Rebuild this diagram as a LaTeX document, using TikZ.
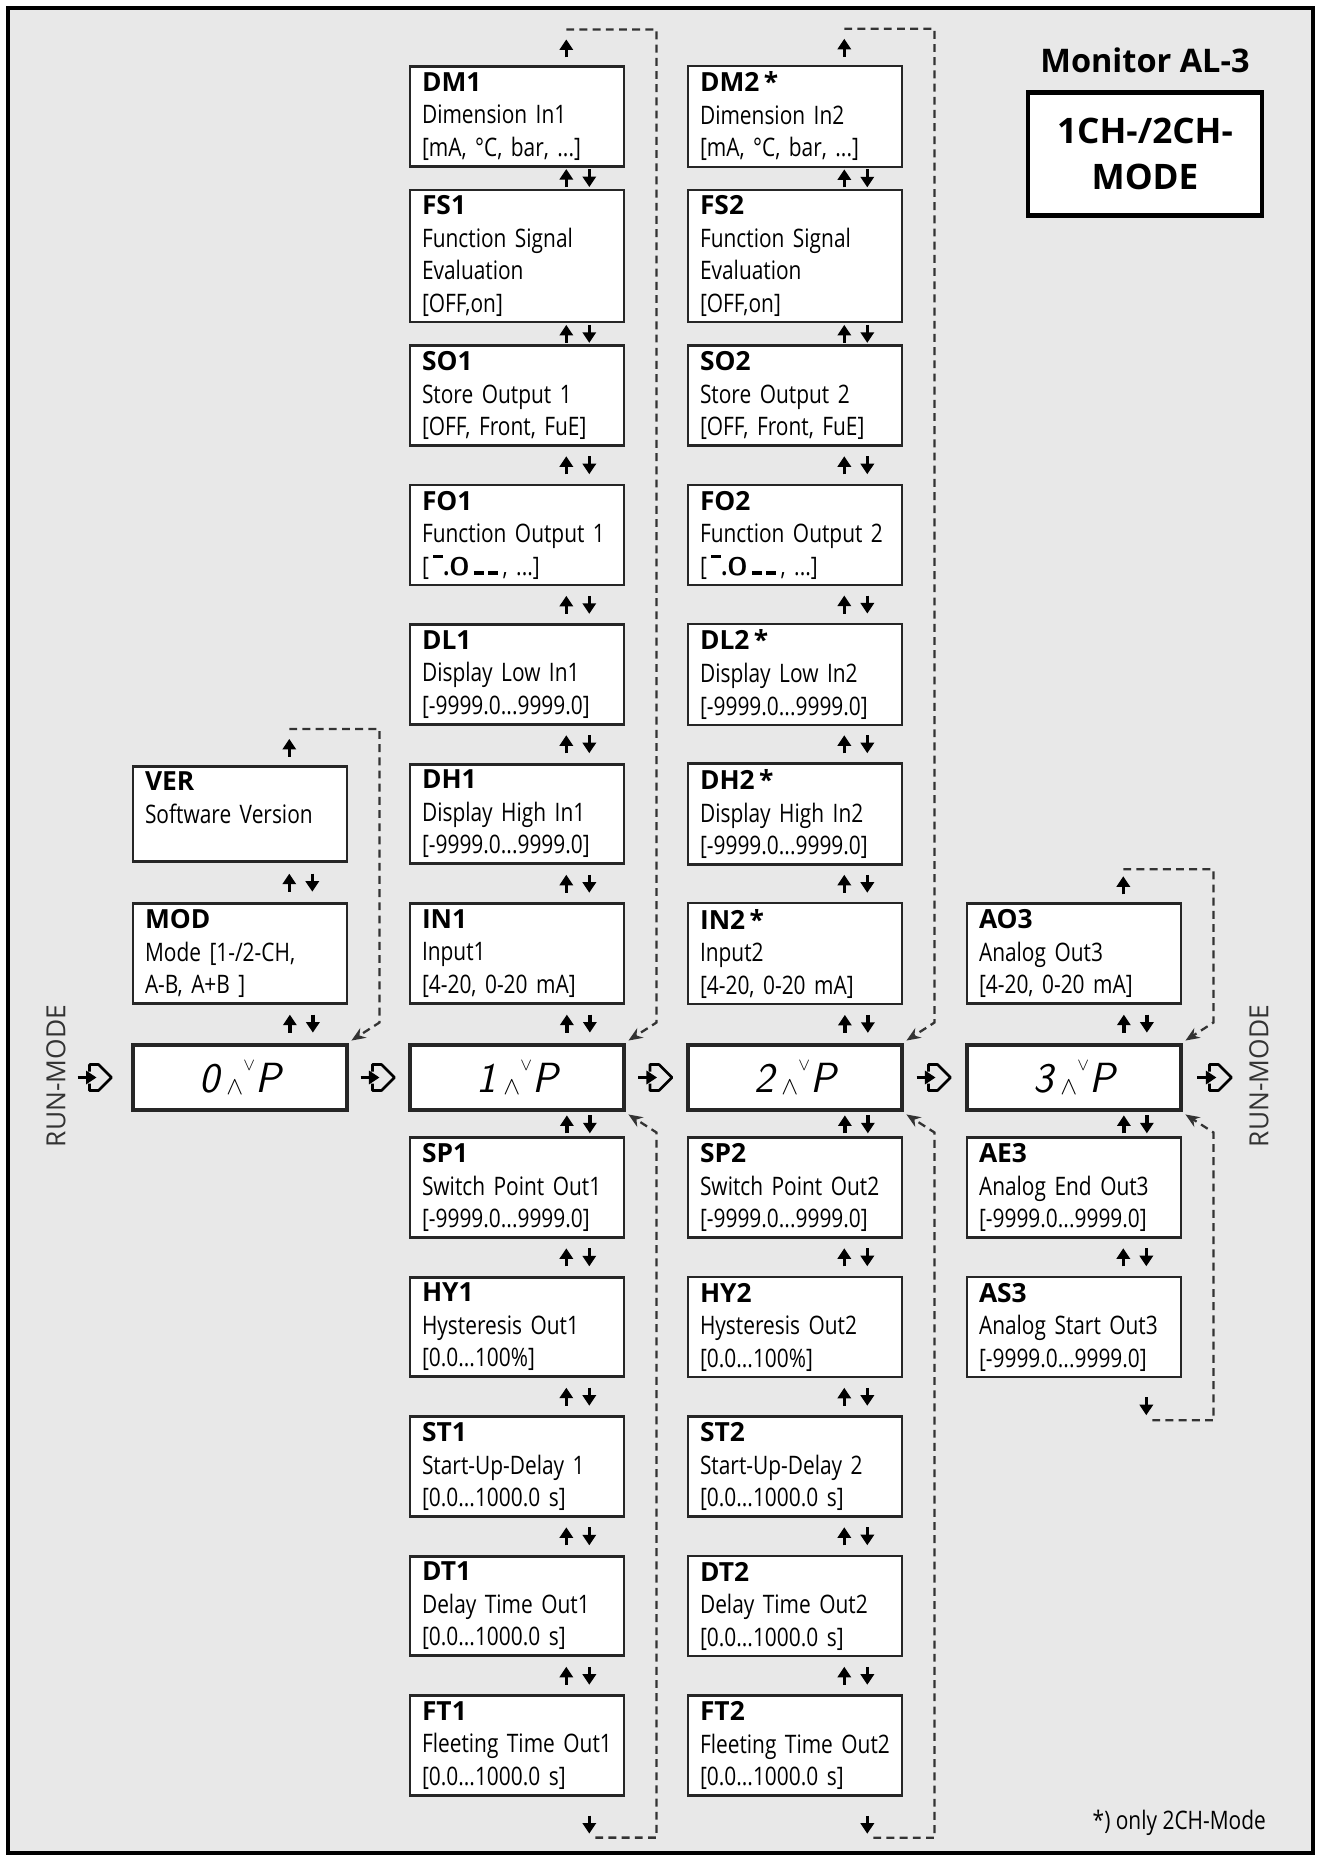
\documentclass[tikz,border=0pt]{standalone}
\usepackage{fontspec}
\setmainfont{Open Sans}[FakeStretch=0.82]
\newfontfamily\headfont{Open Sans}
\usetikzlibrary{arrows.meta, positioning, calc}
\def\boxsep{139.5}
\newcommand\hd[1]{{\headfont\bfseries\fontsize{15}{18}\selectfont #1}}
\newcommand\segglyph{{\rule[1.25ex]{0.4em}{0.13em}\textbf{.}\textbf{\sffamily O}\,\rule{0.4em}{0.15em}\,\rule{0.4em}{0.15em}}}
\newcommand\lcd[1]{{\sffamily\itshape\fontsize{24}{24}\selectfont #1\,\raisebox{-0.1ex}{\fontsize{14}{14}\selectfont$\wedge$}\raisebox{1.2ex}{\fontsize{10}{10}\selectfont$\vee$}P}}
\newcommand\updown[2]{%
  \path ($(#1.south east)!.5!(#2.north east)$) coordinate (m);
  \draw[keyarrow] ($(m)+(-59,9)$) -- ($(m)+(-59,-9)$);
  \draw[keyarrow] ($(m)+(-36,-9)$) -- ($(m)+(-36,9)$);}

\begin{document}
\begin{tikzpicture}[x=0.02cm, y=-0.02cm, font=\fontsize{14.5}{18.5}\selectfont]
    \tikzstyle{param}=[draw=black!85, line width=1.5pt, fill=white, rectangle, minimum width=4.28cm, minimum height=1.9cm, text width=3.8cm, inner xsep=0.22cm, align=left]
    \tikzstyle{disp}=[param, line width=2.8pt, minimum height=1.3cm, align=center]
    \tikzstyle{keyarrow}=[line width=2pt, -{Triangle[length=6pt, width=7.5pt]}]
    \tikzstyle{backloop}=[black!80, line width=1.3pt, dash pattern=on 4.5pt off 3pt, -{Stealth[length=8pt, width=6.5pt]}]
    \tikzstyle{runsign}=[line width=1.5pt, line join=round]

    \useasboundingbox (0,0) rectangle (1317,1862);
    \draw[line width=1.8pt, fill=black!9] (8,8) rectangle (1313,1853);

    \node[font=\headfont\bfseries\fontsize{18.5}{22}\selectfont] (title) at (1145,60) {Monitor AL-3};
    \node[draw, line width=2.6pt, fill=white, minimum width=4.68cm, minimum height=2.46cm, align=center,
          font=\headfont\bfseries\fontsize{20}{26}\selectfont] (mode) at (1145,154) {1CH-/2CH-\\MODE};

    % display row
    \foreach \c/\cx in {0/240,1/517,2/795,3/1074}{
        \node[disp] (D\c) at (\cx,1077.5) {\lcd{\c}};
    }

    % channel 1 and 2
    \foreach \c/\cx in {1/517,2/795}{
        \foreach \k/\n/\s/\la/\lb in {0/DM/1/{Dimension In\c}/{[mA, °C, bar, ...]},
                1/FS/0/{Function Signal}/{Evaluation [OFF,on]},
                2/SO/0/{Store Output \c}/{[OFF, Front, FuE]},
                3/FO/0/{Function Output \c}/{[\,\segglyph\,, ...]},
                4/DL/1/{Display Low In\c}/{[-9999.0...9999.0]},
                5/DH/1/{Display High In\c}/{[-9999.0...9999.0]},
                6/IN/1/{Input\c}/{[4-20, 0-20 mA]}}{
            \node[param] (\n\c) at (\cx,{116.5+\boxsep*\k}) {\hd{\n\c\ifnum\s=1 \ifnum\c=2 \,*\fi\fi}\\{}\la\\{}\lb};
        }
        \foreach \k/\n/\la/\lb in {0/SP/{Switch Point Out\c}/{[-9999.0...9999.0]},
                1/HY/{Hysteresis Out\c}/{[0.0...100\%]},
                2/ST/{Start-Up-Delay \c}/{[0.0...1000.0 s]},
                3/DT/{Delay Time Out\c}/{[0.0...1000.0 s]},
                4/FT/{Fleeting Time Out\c}/{[0.0...1000.0 s]}}{
            \node[param] (\n\c) at (\cx,{1187.5+\boxsep*\k}) {\hd{\n\c}\\{}\la\\{}\lb};
        }
        \foreach \a/\b in {DM/FS,FS/SO,SO/FO,FO/DL,DL/DH,DH/IN,SP/HY,HY/ST,ST/DT,DT/FT}{
            \updown{\a\c}{\b\c}
        }
        \updown{IN\c}{D\c}
        \updown{D\c}{SP\c}
        \draw[keyarrow] ($(DM\c.north east)+(-59,-8)$) -- ($(DM\c.north east)+(-59,-26)$);
        \draw[keyarrow] ($(FT\c.south east)+(-36,19)$) -- ($(FT\c.south east)+(-36,37)$);
        \coordinate (top\c) at ($(DM\c.north east)+(-59,-36)$);
        \coordinate (bot\c) at ($(FT\c.south east)+(-30,41)$);
        \draw[backloop] (top\c) -| ($(D\c.north east)+(30,-20)$) -- ($(D\c.north east)+(2,-2)$);
        \draw[backloop] (bot\c) -| ($(D\c.south east)+(30,20)$) -- ($(D\c.south east)+(2,2)$);
    }

    % mode column
    \node[param] (VER) at (240,{116.5+\boxsep*5}) {\hd{VER}\\Software Version\\\mbox{}};
    \node[param] (MOD) at (240,{116.5+\boxsep*6}) {\hd{MOD}\\Mode [1-/2-CH,\\{}A-B, A+B ]};
    \updown{VER}{MOD}
    \updown{MOD}{D0}
    \draw[keyarrow] ($(VER.north east)+(-59,-8)$) -- ($(VER.north east)+(-59,-26)$);
    \coordinate (top0) at ($(VER.north east)+(-59,-36)$);
    \draw[backloop] (top0) -| ($(D0.north east)+(30,-20)$) -- ($(D0.north east)+(2,-2)$);

    % analog output column
    \node[param] (AO3) at (1074,{116.5+\boxsep*6}) {\hd{AO3}\\Analog Out3\\{}[4-20, 0-20 mA]};
    \node[param] (AE3) at (1074,1187.5) {\hd{AE3}\\Analog End Out3\\{}[-9999.0...9999.0]};
    \node[param] (AS3) at (1074,{1187.5+\boxsep}) {\hd{AS3}\\Analog Start Out3\\{}[-9999.0...9999.0]};
    \updown{AO3}{D3}
    \updown{D3}{AE3}
    \updown{AE3}{AS3}
    \draw[keyarrow] ($(AO3.north east)+(-59,-8)$) -- ($(AO3.north east)+(-59,-26)$);
    \draw[keyarrow] ($(AS3.south east)+(-36,19)$) -- ($(AS3.south east)+(-36,37)$);
    \coordinate (top3) at ($(AO3.north east)+(-59,-33)$);
    \coordinate (bot3) at ($(AS3.south east)+(-30,42)$);
    \draw[backloop] (top3) -| ($(D3.north east)+(30,-20)$) -- ($(D3.north east)+(2,-2)$);
    \draw[backloop] (bot3) -| ($(D3.south east)+(30,20)$) -- ($(D3.south east)+(2,2)$);

    % run-mode steps
    \coordinate (g0) at ($(D0.west)+(-35,0)$);
    \coordinate (g1) at ($(D0.east)!.5!(D1.west)$);
    \coordinate (g2) at ($(D1.east)!.5!(D2.west)$);
    \coordinate (g3) at ($(D2.east)!.5!(D3.west)$);
    \coordinate (g4) at ($(D3.east)+(32,0)$);
    \foreach \g in {0,...,4}{
        \draw[runsign, shift={(g\g)}] (-6,-6) -- (-6,-13) -- (3,-13) -- (16,0) -- (3,13) -- (-6,13) -- (-6,6);
        \draw[keyarrow, shift={(g\g)}] (-18,0) -- (1,0);
    }
    \node[rotate=90, font=\headfont\fontsize{15}{15}\selectfont, text=black!80] (run-l) at (56,1076) {RUN-MODE};
    \node[rotate=90, font=\headfont\fontsize{15}{15}\selectfont, text=black!80] (run-r) at (1259,1076) {RUN-MODE};

    \node[anchor=east] (note) at (1272,1823) {*) only 2CH-Mode};
\end{tikzpicture}
\end{document}
